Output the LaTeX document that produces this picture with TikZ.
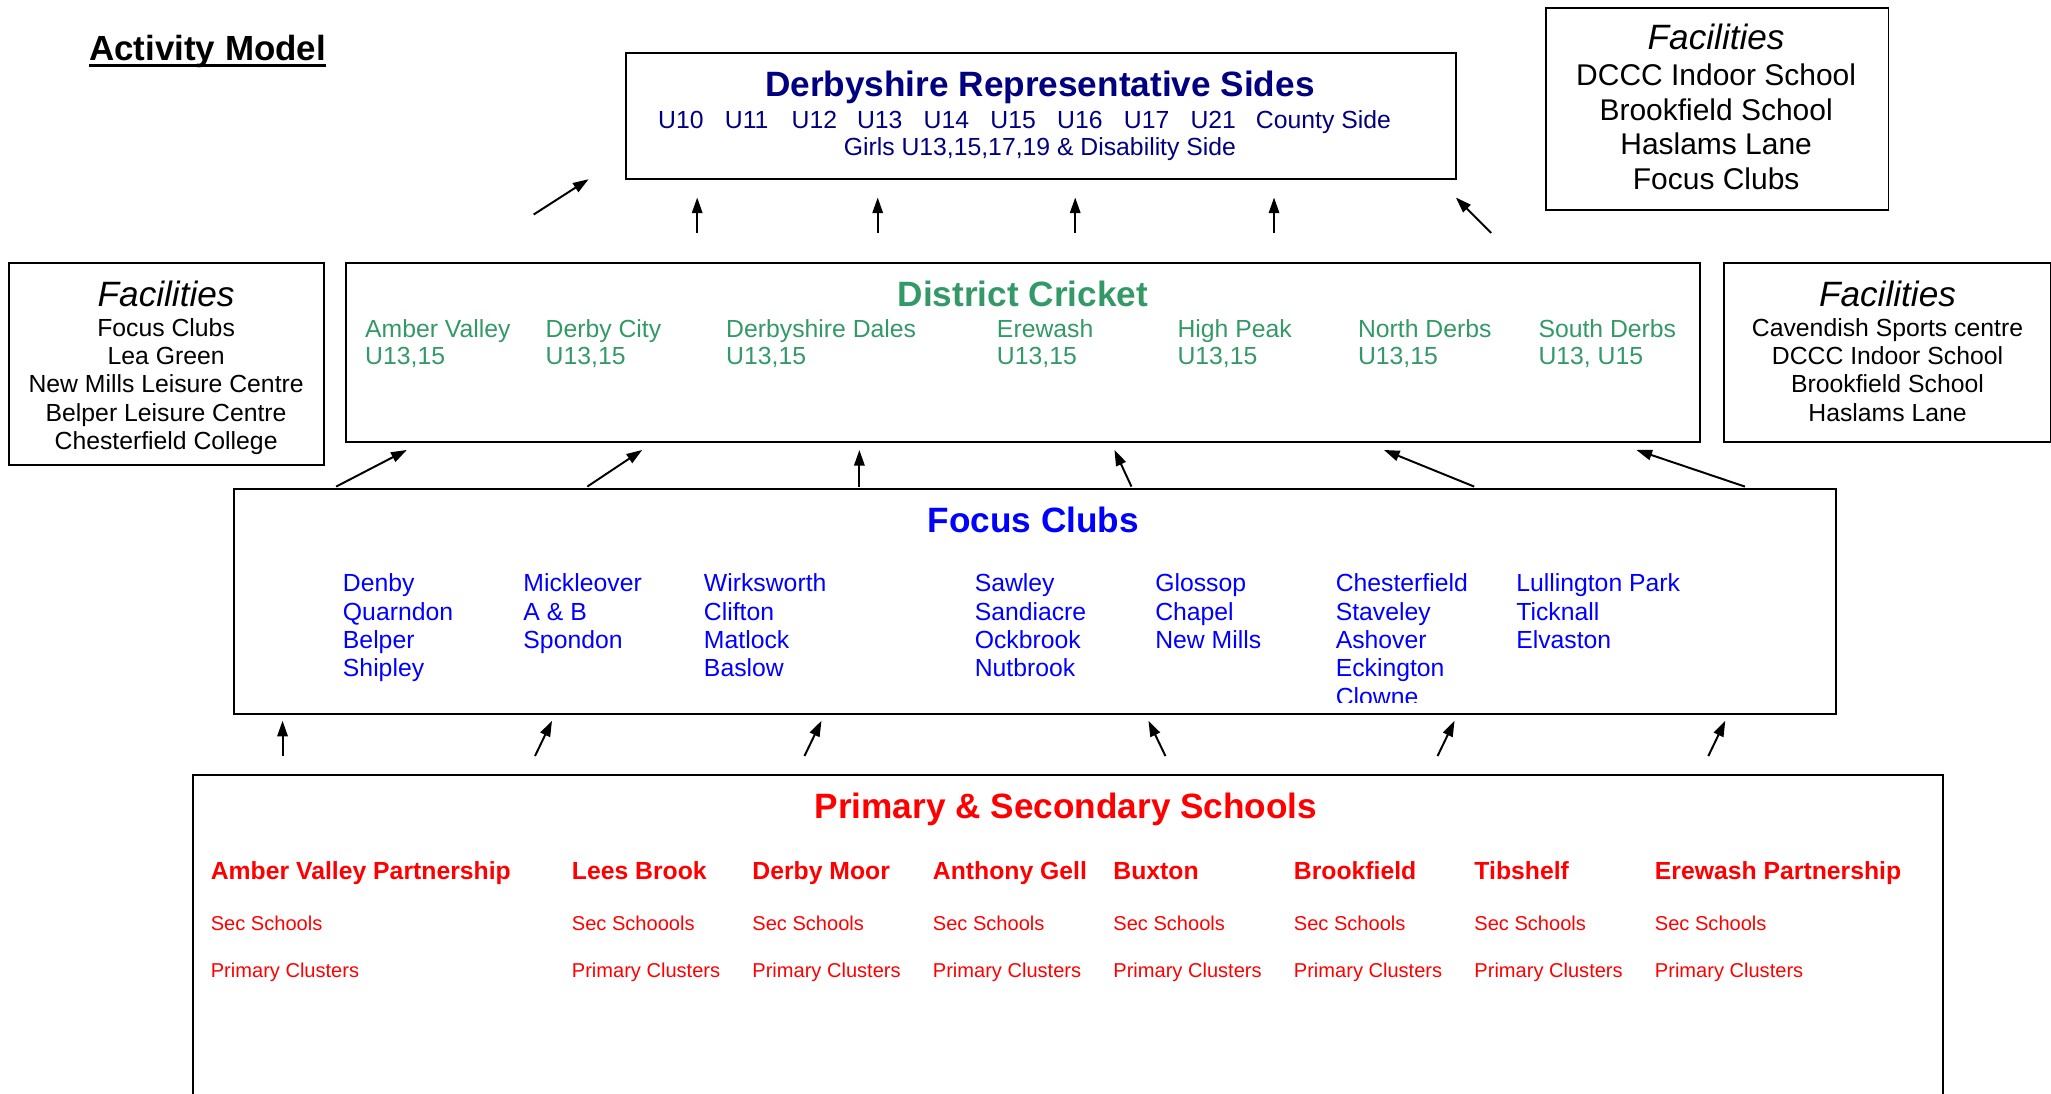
\documentclass[tikz,border=0pt]{standalone}
\usepackage{fontspec}
\setmainfont{Liberation Sans}
\usetikzlibrary{arrows.meta}
\definecolor{navyc}{RGB}{0,0,128}
\definecolor{greenc}{RGB}{51,153,102}
\definecolor{bluec}{RGB}{0,0,255}
\definecolor{redc}{RGB}{255,0,0}
\newcommand\fHead{\fontsize{27}{30}\selectfont}
\newcommand\fTitle{\fontsize{26.8}{29}\selectfont}
\newcommand\fBig{\fontsize{23}{26}\selectfont}
\newcommand\fMid{\fontsize{19}{22}\selectfont}
\newcommand\fSmall{\fontsize{15.4}{18}\selectfont}
\tikzset{
  box/.style={draw, line width=1.5bp, inner sep=0, anchor=north west},
  txt/.style={inner sep=0, anchor=base west},
  ctxt/.style={inner sep=0, anchor=base},
  arr/.style={line width=1.5bp, -{Triangle[length=12bp,width=8bp]}},
}
\begin{document}
\begin{tikzpicture}[x=1bp,y=-1bp]
\useasboundingbox (0,0) rectangle (1568,836);
\clip (0,0) rectangle (1568,836);

% title
\node[txt, font=\fTitle\bfseries] (title) at (68,46) {Activity Model};
\draw[line width=2.2bp] ([yshift=-4bp]title.base west) -- ([yshift=-4bp]title.base east);

% boxes
\node[box, minimum width=634bp, minimum height=96bp] (drs) at (478,40) {};
\node[box, minimum width=262bp, minimum height=155bp] (facT) at (1181,5) {};
\node[box, minimum width=241bp, minimum height=155bp] (facL) at (6,200) {};
\node[box, minimum width=1035bp, minimum height=137bp] (dist) at (264,200) {};
\node[box, minimum width=250bp, minimum height=137bp] (facR) at (1317,200) {};
\node[box, minimum width=1225bp, minimum height=172bp] (focus) at (178,373) {};
\node[box, minimum width=1338bp, minimum height=320bp] (schools) at (147,592) {};

% Derbyshire Representative Sides
\node[ctxt, font=\fHead\bfseries, text=navyc] (drsT) at (795,74) {Derbyshire Representative Sides};
\foreach \n/\x/\t in {1/503/U10,2/554/U11,3/605/U12,4/655/U13,5/706/U14,6/757/U15,7/808/U16,8/859/U17,9/910/U21,10/960/County Side}
  \node[txt, font=\fMid, text=navyc] (age\n) at (\x,98) {\t};
\node[ctxt, font=\fMid, text=navyc] (girls) at (795,119) {Girls U13,15,17,19 \& Disability Side};

% Facilities top right
\node[ctxt, font=\fHead\itshape] (facTh) at (1312,38) {Facilities};
\foreach \n/\y/\t in {1/65/DCCC Indoor School,2/92/Brookfield School,3/118/Haslams Lane,4/145/Focus Clubs}
  \node[ctxt, font=\fBig] (facT\n) at (1312,\y) {\t};

% Facilities left
\node[ctxt, font=\fHead\itshape] (facLh) at (127,234) {Facilities};
\foreach \n/\y/\t in {1/257/Focus Clubs,2/279/Lea Green,3/300/New Mills Leisure Centre,4/322/Belper Leisure Centre,5/344/Chesterfield College}
  \node[ctxt, font=\fMid] (facL\n) at (127,\y) {\t};

% Facilities right
\node[ctxt, font=\fHead\itshape] (facRh) at (1443,234) {Facilities};
\foreach \n/\y/\t in {1/257/Cavendish Sports centre,2/279/DCCC Indoor School,3/300/Brookfield School,4/322/Haslams Lane}
  \node[ctxt, font=\fMid] (facR\n) at (1443,\y) {\t};

% District Cricket
\node[ctxt, font=\fHead\bfseries, text=greenc] (distT) at (782,234) {District Cricket};
\foreach \n/\x/\a/\b in {1/279/Amber Valley/{U13,15},2/417/Derby City/{U13,15},3/555/Derbyshire Dales/{U13,15},4/762/Erewash/{U13,15},5/900/High Peak/{U13,15},6/1038/North Derbs/{U13,15},7/1176/South Derbs/{U13, U15}}
{
  \node[txt, font=\fMid, text=greenc] (dn\n) at (\x,258) {\a};
  \node[txt, font=\fMid, text=greenc] (du\n) at (\x,279) {\b};
}

% Focus Clubs
\node[ctxt, font=\fHead\bfseries, text=bluec] (focT) at (790,407) {Focus Clubs};
\foreach \n/\x/\y/\t in {
  a1/262/452/Denby, a2/262/474/Quarndon, a3/262/496/Belper, a4/262/517/Shipley,
  b1/400/452/Mickleover, b2/400/474/A \& B, b3/400/496/Spondon,
  c1/538/452/Wirksworth, c2/538/474/Clifton, c3/538/496/Matlock, c4/538/517/Baslow,
  d1/745/452/Sawley, d2/745/474/Sandiacre, d3/745/496/Ockbrook, d4/745/517/Nutbrook,
  e1/883/452/Glossop, e2/883/474/Chapel, e3/883/496/New Mills,
  f1/1021/452/Chesterfield, f2/1021/474/Staveley, f3/1021/496/Ashover, f4/1021/517/Eckington,
  g1/1159/452/Lullington Park, g2/1159/474/Ticknall, g3/1159/496/Elvaston}
  \node[txt, font=\fMid, text=bluec] (club\n) at (\x,\y) {\t};
\begin{scope}
  \clip (1000,520) rectangle (1200,537);
  \node[txt, font=\fMid, text=bluec] (clubf5) at (1021,539) {Clowne};
\end{scope}

% Schools
\node[ctxt, font=\fHead\bfseries, text=redc] (schT) at (815,626) {Primary \& Secondary Schools};
\foreach \n/\x/\h/\s in {1/161/Amber Valley Partnership/Sec Schools,2/437/Lees Brook/Sec Schoools,3/575/Derby Moor/Sec Schools,4/713/Anthony Gell/Sec Schools,5/851/Buxton/Sec Schools,6/989/Brookfield/Sec Schools,7/1127/Tibshelf/Sec Schools,8/1265/Erewash Partnership/Sec Schools}
{
  \node[txt, font=\fMid\bfseries, text=redc] (sh\n) at (\x,672) {\h};
  \node[txt, font=\fSmall, text=redc] (ss\n) at (\x,711.5) {\s};
  \node[txt, font=\fSmall, text=redc] (sp\n) at (\x,747.5) {Primary Clusters};
}

% arrows
\foreach \n/\xs/\ys/\xe/\ye in {
  t1/408/164/450/137, t2/533/178/533/151, t3/671/178/671/151, t4/822/178/822/151, t5/974/178/974/151, t6/1140/178/1113/151,
  m1/257/372/311/344, m2/449/372/491/344, m3/657/372/657/344, m4/865/372/852/344, m5/1127/372/1058/344, m6/1334/372/1251/344,
  b1/216/578/216/551, b2/409/578/422/551, b3/615/578/628/551, b4/891/578/878/551, b5/1099/578/1112/551, b6/1306/578/1319/551}
{
  \coordinate (\n s) at (\xs,\ys);
  \coordinate (\n e) at (\xe,\ye);
  \draw[arr] (\n s) -- (\n e);
}
\end{tikzpicture}
\end{document}
